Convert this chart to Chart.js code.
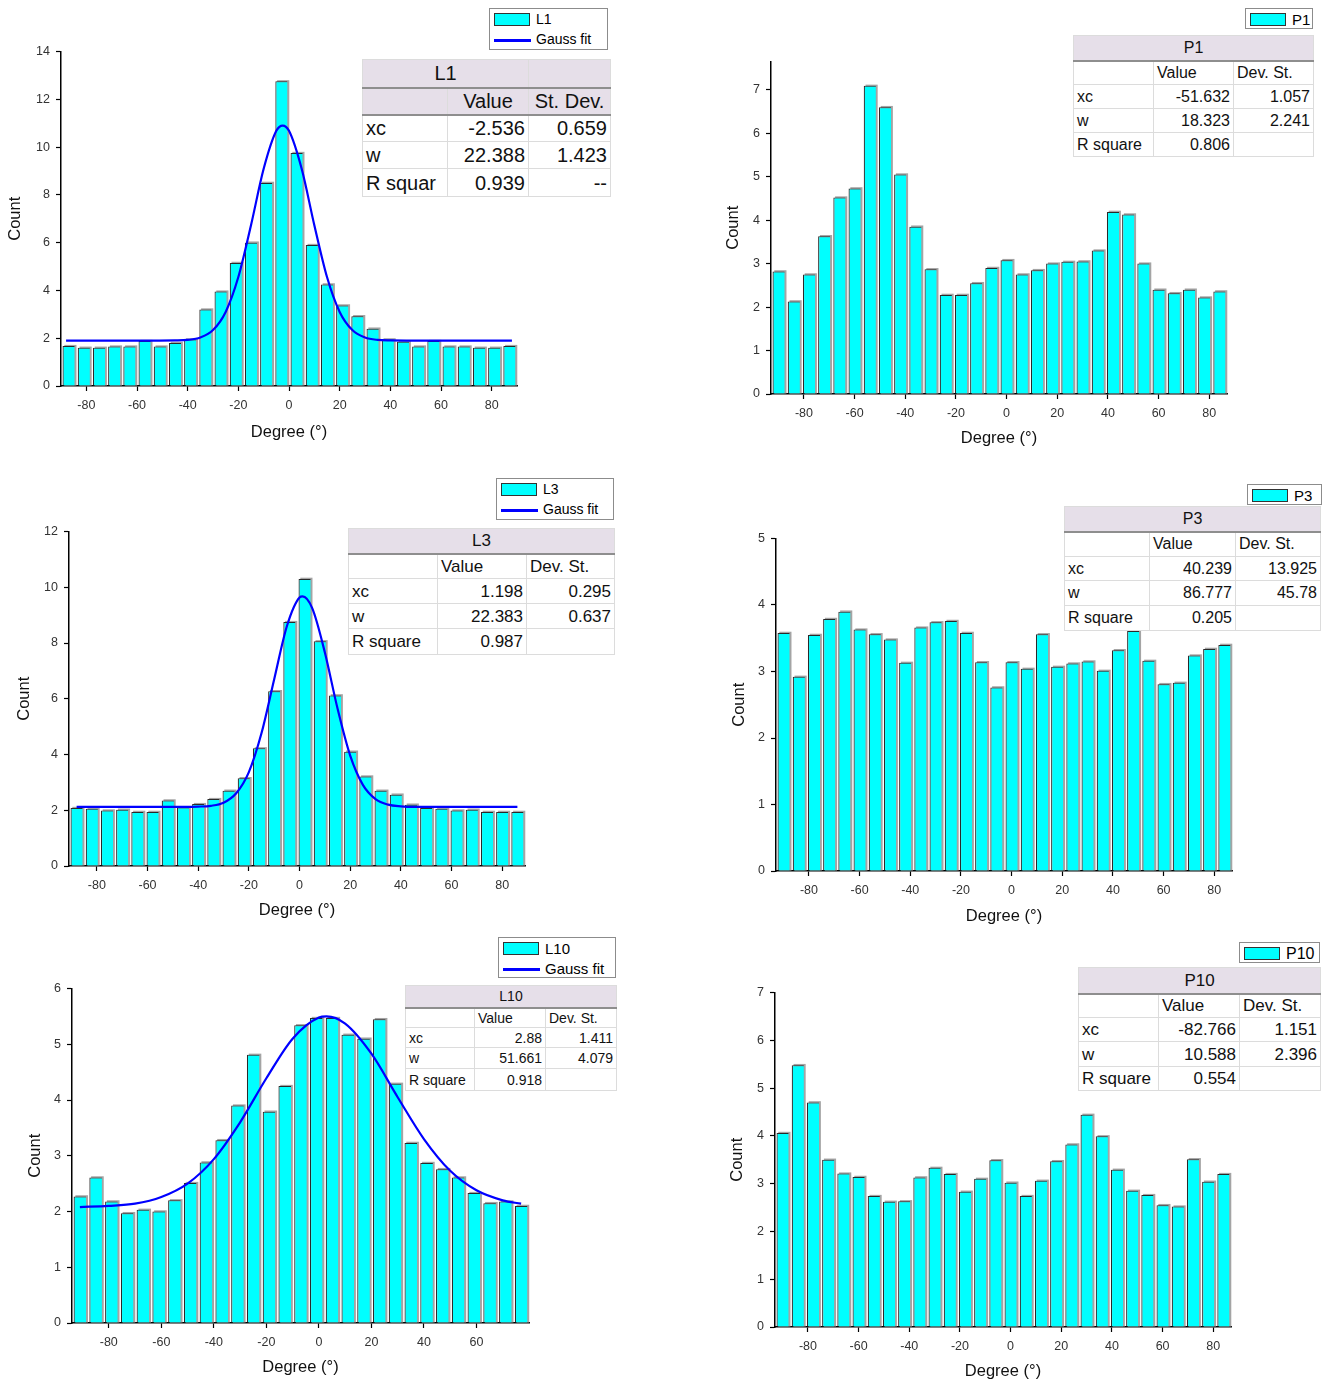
<!DOCTYPE html>
<html><head><meta charset="utf-8">
<script src="https://cdn.jsdelivr.net/npm/chart.js@4.4.0/dist/chart.umd.min.js"></script>
<style>
body{margin:0;background:#fff;width:1324px;height:1383px;position:relative;overflow:hidden;font-family:"Liberation Sans",Arial,sans-serif;}
canvas{position:absolute;z-index:1;}
.lg{position:absolute;z-index:3;background:#fff;border:1.5px solid #8c8c8c;box-sizing:border-box;color:#000;}
.lg .row{position:absolute;left:4px;height:18px;white-space:nowrap;}
.lg .sw{position:absolute;left:0;width:36px;height:13px;background:#00FFFF;border:1px solid #333;border-bottom-width:1.5px;box-sizing:border-box;}
.lg .ln{position:absolute;left:0;width:37px;height:2.5px;background:#0000FF;}
.lg .tx{position:absolute;left:42px;}
table.st{position:absolute;z-index:3;border-collapse:collapse;background:#fff;table-layout:fixed;border:1.5px solid #a0a0a0;color:#111;}
table.st td{border:1px solid #dcdcdc;padding:0 3px;white-space:nowrap;overflow:hidden;line-height:1;}
table.st tr.h td{background:#E6DFE9;text-align:center;border-bottom:2px solid #8e8e8e;}
table.st td.n{text-align:right;}
table.st td.l{text-align:left;}
</style></head><body>
<script>
// ---------- DATA ----------
const DEG_TICKS = [-80,-60,-40,-20,0,20,40,60,80];
const L10_xTicks = [-80,-60,-40,-20,0,20,40,60];

const L1_centers = [-87,-81,-75,-69,-63,-57,-51,-45,-39,-33,-27,-21,-15,-9,-3,3,9,15,21,27,33,39,45,51,57,63,69,75,81,87];
const L1_counts  = [1.67,1.6,1.6,1.65,1.65,1.88,1.65,1.8,1.95,3.2,3.95,5.15,6.0,8.5,12.75,9.75,5.9,4.25,3.37,2.92,2.4,1.95,1.85,1.65,1.88,1.65,1.65,1.6,1.6,1.67];
const L1_fitX = [-88,-60,-45,-40,-35,-30,-25,-20,-15,-10,-5,-2.5,0,5,10,15,20,25,30,35,40,55,88];
const L1_fitY = [1.9,1.9,1.91,1.93,2.03,2.34,3.10,4.56,6.73,9.09,10.68,10.9,10.68,9.09,6.73,4.56,3.10,2.34,2.03,1.93,1.91,1.9,1.9];
const L1_yTicks = [0,2,4,6,8,10,12,14];

const P_centers = [-90,-84,-78,-72,-66,-60,-54,-48,-42,-36,-30,-24,-18,-12,-6,0,6,12,18,24,30,36,42,48,54,60,66,72,78,84];
const P1_counts = [2.82,2.13,2.75,3.63,4.52,4.73,7.09,6.6,5.05,3.85,2.87,2.28,2.28,2.55,2.9,3.08,2.75,2.85,3.0,3.04,3.05,3.3,4.19,4.13,3.0,2.4,2.32,2.4,2.22,2.36];
const P1_yTicks = [0,1,2,3,4,5,6,7];

const L3_centers = [-88,-82,-76,-70,-64,-58,-52,-46,-40,-34,-28,-22,-16,-10,-4,2,8,14,20,26,32,38,44,50,56,62,68,74,80,86];
const L3_counts  = [2.08,2.05,1.99,2.02,1.94,1.94,2.35,2.1,2.22,2.4,2.7,3.15,4.22,6.27,8.75,10.3,8.06,6.12,4.1,3.21,2.7,2.56,2.2,2.08,2.05,1.99,2.02,1.94,1.94,1.94];
const L3_fitX = [-88,-45,-40,-35,-30,-25,-20,-15,-10,-5,0,1.2,5,10,15,20,25,30,35,40,45,86];
const L3_fitY = [2.12,2.12,2.13,2.16,2.27,2.61,3.37,4.77,6.70,8.60,9.63,9.67,9.25,7.66,5.65,3.96,2.91,2.40,2.20,2.14,2.12,2.12];
const L3_yTicks = [0,2,4,6,8,10,12];

const P3_counts = [3.58,2.92,3.55,3.79,3.9,3.63,3.56,3.48,3.13,3.66,3.74,3.76,3.58,3.14,2.76,3.14,3.04,3.56,3.07,3.12,3.15,3.01,3.32,3.61,3.16,2.81,2.83,3.24,3.34,3.4];
const P3_yTicks = [0,1,2,3,4,5];

const L10_centers = [-91,-85,-79,-73,-67,-61,-55,-49,-43,-37,-31,-25,-19,-13,-7,-1,5,11,17,23,29,35,41,47,53,59,65,71,77];
const L10_counts  = [2.27,2.61,2.18,1.97,2.03,2.0,2.2,2.51,2.88,3.28,3.9,4.81,3.79,4.25,5.34,5.47,5.47,5.17,5.1,5.45,4.29,3.23,2.87,2.76,2.61,2.33,2.15,2.18,2.1];
const L10_fitX = [-91,-80,-70,-60,-50,-40,-30,-20,-10,0,2.9,10,20,30,40,50,60,70,77];
const L10_fitY = [2.08,2.10,2.14,2.26,2.50,2.94,3.60,4.39,5.10,5.48,5.50,5.37,4.83,4.05,3.30,2.73,2.38,2.20,2.14];
const L10_yTicks = [0,1,2,3,4,5,6];

const P10_counts = [4.06,5.48,4.7,3.5,3.21,3.14,2.74,2.62,2.63,3.13,3.33,3.2,2.83,3.1,3.49,3.02,2.74,3.06,3.47,3.82,4.44,3.99,3.29,2.85,2.76,2.55,2.52,3.51,3.04,3.2];
const P10_yTicks = [0,1,2,3,4,5,6,7];

const L1_table  = [['xc','-2.536','0.659'],['w','22.388','1.423'],['R squar','0.939','--']];
const P1_table  = [['xc','-51.632','1.057'],['w','18.323','2.241'],['R square','0.806','']];
const L3_table  = [['xc','1.198','0.295'],['w','22.383','0.637'],['R square','0.987','']];
const P3_table  = [['xc','40.239','13.925'],['w','86.777','45.78'],['R square','0.205','']];
const L10_table = [['xc','2.88','1.411'],['w','51.661','4.079'],['R square','0.918','']];
const P10_table = [['xc','-82.766','1.151'],['w','10.588','2.396'],['R square','0.554','']];

// ---------- LAYOUT ----------
const panels = [
 {name:'L1', centers:L1_centers, counts:L1_counts, fitX:L1_fitX, fitY:L1_fitY, xTicks:DEG_TICKS, yTicks:L1_yTicks,
  xMin:-90, xMax:90, yMax:14, plot:{l:61,r:517,t:50,b:386}, yW:55, xH:56,
  legend:{x:489,y:8,w:119,h:42,fs:14}, table:{x:362,y:59,cols:[85,81,82],rows:[28,27,27,27,28],fs:20,rows2:L1_table,dev:'St. Dev.',l1:true}},
 {name:'P1', centers:P_centers, counts:P1_counts, xTicks:DEG_TICKS, yTicks:P1_yTicks,
  xMin:-93, xMax:87, yMax:7.65, plot:{l:771,r:1227,t:60,b:394}, yW:47, xH:54,
  legend:{x:1245,y:8,w:68,h:21,fs:15}, table:{x:1073,y:35,cols:[80,80,80],rows:[25,24,24,24,24],fs:16,rows2:P1_table,dev:'Dev. St.'}},
 {name:'L3', centers:L3_centers, counts:L3_counts, fitX:L3_fitX, fitY:L3_fitY, xTicks:DEG_TICKS, yTicks:L3_yTicks,
  xMin:-91, xMax:89, yMax:12, plot:{l:69,r:525,t:530,b:866}, yW:54, xH:54,
  legend:{x:496,y:478,w:118,h:42,fs:14}, table:{x:348,y:528,cols:[89,89,88],rows:[25,25,25,25,26],fs:17,rows2:L3_table,dev:'Dev. St.'}},
 {name:'P3', centers:P_centers, counts:P3_counts, xTicks:DEG_TICKS, yTicks:P3_yTicks,
  xMin:-93, xMax:87, yMax:5, plot:{l:776,r:1232,t:537,b:871}, yW:46, xH:55,
  legend:{x:1247,y:484,w:75,h:21,fs:15}, table:{x:1064,y:506,cols:[85,86,85],rows:[25,25,24,25,25],fs:16,rows2:P3_table,dev:'Dev. St.'}},
 {name:'L10', centers:L10_centers, counts:L10_counts, fitX:L10_fitX, fitY:L10_fitY, xTicks:L10_xTicks, yTicks:L10_yTicks,
  xMin:-94, xMax:80, yMax:6, plot:{l:72,r:529,t:987,b:1323}, yW:46, xH:54,
  legend:{x:498,y:937,w:118,h:41,fs:15}, table:{x:405,y:985,cols:[69,71,71],rows:[22,20,20,21,22],fs:14,rows2:L10_table,dev:'Dev. St.'}},
 {name:'P10', centers:P_centers, counts:P10_counts, xTicks:DEG_TICKS, yTicks:P10_yTicks,
  xMin:-93, xMax:87, yMax:7, plot:{l:775,r:1231,t:991,b:1327}, yW:47, xH:54,
  legend:{x:1239,y:942,w:81,h:21,fs:16}, table:{x:1078,y:967,cols:[80,81,81],rows:[26,24,24,25,24],fs:17,rows2:P10_table,dev:'Dev. St.'}}
];

const FONT = '"Liberation Sans", Arial, sans-serif';

// gray drop shadow behind each bar (positions taken from the library's bar elements)
const barShadow = {
  id:'barShadow',
  beforeDatasetDraw(chart, args){
    const ds = chart.data.datasets[args.index];
    if (ds.type !== 'bar') return;
    const ctx = chart.ctx;
    ctx.save();
    ctx.fillStyle = '#a4a4a4';
    args.meta.data.forEach(el=>{
      const {x, y, base, width} = el.getProps(['x','y','base','width'], true);
      ctx.fillRect(x - width/2 + 1.8, y - 1.2, width, base - y + 1.2);
    });
    ctx.restore();
  }
};

function makeChart(p){
  const padT = 12, padR = 12;
  const left = p.plot.l - p.yW, top = p.plot.t - padT;
  const width = p.plot.r + padR - left, height = p.plot.b + p.xH - top;
  const c = document.createElement('canvas');
  c.width = width; c.height = height;
  c.style.left = left + 'px'; c.style.top = top + 'px';
  c.style.width = width + 'px'; c.style.height = height + 'px';
  document.body.appendChild(c);

  const datasets = [{
    type:'bar', label:p.name,
    data: p.centers.map((x,i)=>({x:x, y:p.counts[i]})),
    backgroundColor:'#00FFFF', borderColor:'#2a2a2a',
    borderWidth:{left:1.2,top:1,right:0,bottom:0},
    barPercentage:0.8, categoryPercentage:1, order:2
  }];
  if (p.fitX) {
    datasets.push({
      type:'line', label:'Gauss fit',
      data: p.fitX.map((x,i)=>({x:x, y:p.fitY[i]})),
      borderColor:'#0000FF', borderWidth:2.2, pointRadius:0,
      cubicInterpolationMode:'monotone', fill:false, order:0
    });
  }
  const axisCommon = {
    grid:{display:true, drawOnChartArea:false, drawTicks:true, tickLength:5, tickColor:'#000', tickWidth:1.2, offset:false},
    border:{display:true, color:'#000', width:1.5},
    ticks:{font:{family:FONT,size:12.5}, color:'#333', autoSkip:false, maxRotation:0, includeBounds:false}
  };
  new Chart(c, {
    type:'bar',
    data:{datasets},
    plugins:[barShadow],
    options:{
      responsive:false, animation:false, events:[],
      layout:{padding:{top:padT,right:padR,left:0,bottom:0}},
      plugins:{legend:{display:false}, tooltip:{enabled:false}},
      scales:{
        x:Object.assign({}, axisCommon, {
          type:'linear', min:p.xMin, max:p.xMax, offset:false,
          ticks:Object.assign({}, axisCommon.ticks, {padding:7}),
          afterBuildTicks:s=>{ s.ticks = p.xTicks.map(v=>({value:v})); },
          afterFit:s=>{ s.height = p.xH; },
          title:{display:true, text:'Degree (°)', color:'#111', font:{family:FONT,size:16.5}, padding:0}
        }),
        y:Object.assign({}, axisCommon, {
          type:'linear', min:0, max:p.yMax,
          ticks:Object.assign({}, axisCommon.ticks, {padding:6}),
          afterBuildTicks:s=>{ s.ticks = p.yTicks.map(v=>({value:v})); },
          afterFit:s=>{ s.width = p.yW; },
          title:{display:true, text:'Count', color:'#111', font:{family:FONT,size:16.5}, padding:0}
        })
      }
    }
  });
}

function makeLegend(p){
  const L = p.legend;
  const d = document.createElement('div');
  d.className = 'lg';
  d.style.cssText = `left:${L.x}px;top:${L.y}px;width:${L.w}px;height:${L.h}px;font-size:${L.fs}px;`;
  let html = `<div class="row" style="top:2px;width:${L.w-8}px"><div class="sw" style="top:2px"></div><div class="tx" style="top:0px">${p.name}</div></div>`;
  if (p.fitX) html += `<div class="row" style="top:21px;width:${L.w-8}px"><div class="ln" style="top:9px"></div><div class="tx" style="top:1px">Gauss fit</div></div>`;
  d.innerHTML = html;
  document.body.appendChild(d);
}

function makeTable(p){
  const T = p.table;
  const t = document.createElement('table');
  t.className = 'st';
  const w = T.cols.reduce((a,b)=>a+b,0);
  t.style.cssText = `left:${T.x}px;top:${T.y}px;width:${w}px;font-size:${T.fs}px;`;
  let html = '<colgroup>' + T.cols.map(c=>`<col style="width:${c}px">`).join('') + '</colgroup>';
  if (T.l1) {
    html += `<tr class="h" style="height:${T.rows[0]}px"><td colspan="2">${p.name}</td><td></td></tr>`;
    html += `<tr class="h" style="height:${T.rows[1]}px"><td></td><td class="n">Value</td><td class="n">${T.dev}</td></tr>`;
  } else {
    html += `<tr class="h" style="height:${T.rows[0]}px"><td colspan="3">${p.name}</td></tr>`;
    html += `<tr style="height:${T.rows[1]}px"><td></td><td class="l">Value</td><td class="l">${T.dev}</td></tr>`;
  }
  T.rows2.forEach((r,i)=>{
    html += `<tr style="height:${T.rows[i+2]}px"><td class="l">${r[0]}</td><td class="n">${r[1]}</td><td class="n">${r[2]}</td></tr>`;
  });
  t.innerHTML = html;
  document.body.appendChild(t);
}

panels.forEach(p=>{ makeChart(p); });
panels.forEach(p=>{ makeLegend(p); makeTable(p); });
</script>
</body></html>
